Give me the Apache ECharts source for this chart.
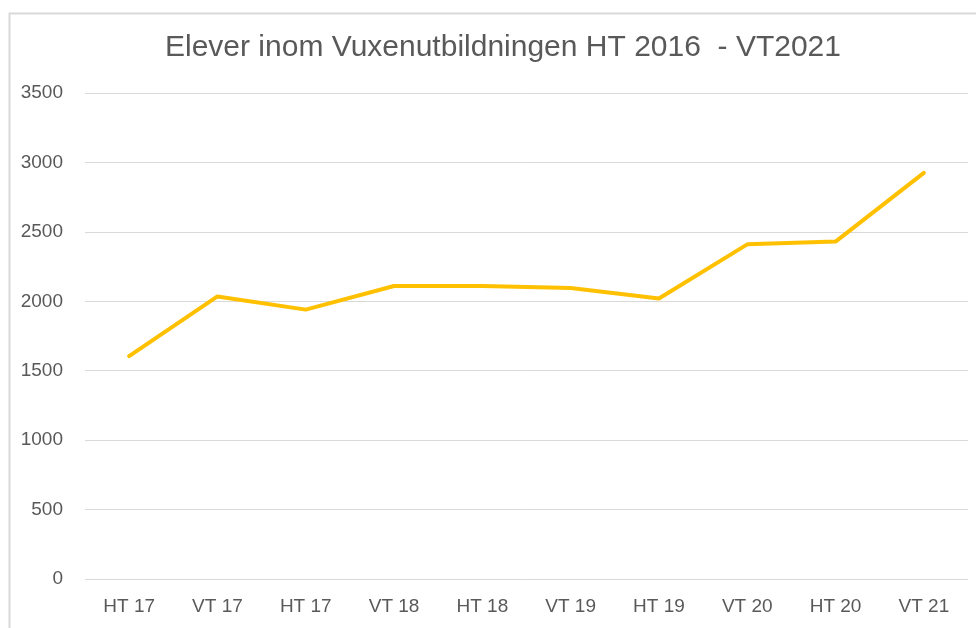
<!DOCTYPE html>
<html>
<head>
<meta charset="utf-8">
<script src="https://cdn.jsdelivr.net/npm/echarts@6/dist/echarts.min.js"></script>
<style>
  html, body { margin: 0; padding: 0; background: #fff; }
  #chart { width: 976px; height: 628px; }
</style>
</head>
<body>
<div id="chart"></div>
<script>
// terminer (etiketter som i originalet, inkl. dubbla "HT 17")
const terminer = ['HT 17', 'VT 17', 'HT 17', 'VT 18', 'HT 18', 'VT 19', 'HT 19', 'VT 20', 'HT 20', 'VT 21'];
// antal elever per termin
const elever = [1605, 2035, 1940, 2110, 2110, 2095, 2020, 2410, 2430, 2925];
const yTicks = { min: 0, max: 3500, interval: 500 };

const textColor = '#595959';
const gridColor = '#d9d9d9';
const fontFam = '"Liberation Sans", Arial, sans-serif';

const chart = echarts.init(document.getElementById('chart'));

const option = {
  animation: false,
  backgroundColor: '#fff',
  title: {
    text: 'Elever inom Vuxenutbildningen HT 2016  - VT2021',
    left: 160,
    top: 28,
    textStyle: {
      fontFamily: fontFam,
      fontSize: 30,
      fontWeight: 'normal',
      color: textColor
    }
  },
  graphic: [{
    type: 'rect',
    left: 7,
    top: 11,
    shape: { width: 990, height: 640 },
    style: { fill: 'none', stroke: gridColor, lineWidth: 2 },
    silent: true
  }],
  grid: { left: 85, right: 8, top: 93, bottom: 49 },
  xAxis: {
    type: 'category',
    data: terminer,
    boundaryGap: true,
    axisLine: { show: false },
    axisTick: { show: false },
    axisLabel: {
      margin: 18,
      fontFamily: fontFam,
      fontSize: 19,
      color: textColor,
      interval: 0
    }
  },
  yAxis: {
    type: 'value',
    min: yTicks.min,
    max: yTicks.max,
    interval: yTicks.interval,
    axisLine: { show: false },
    axisTick: { show: false },
    axisLabel: {
      margin: 22,
      fontFamily: fontFam,
      fontSize: 19,
      color: textColor,
      formatter: v => String(v)
    },
    splitLine: { lineStyle: { color: gridColor, width: 1 } }
  },
  series: [{
    type: 'line',
    data: elever,
    symbol: 'none',
    lineStyle: { color: '#FFC000', width: 4, cap: 'round', join: 'round' },
    itemStyle: { color: '#FFC000' }
  }]
};

chart.setOption(option);
</script>
</body>
</html>
